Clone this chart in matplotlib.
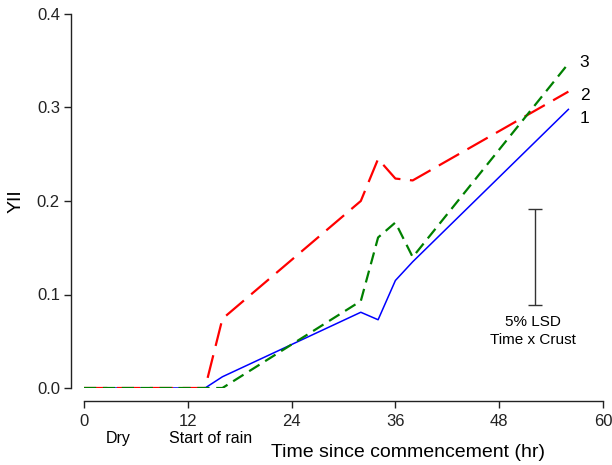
import matplotlib
matplotlib.use("Agg")
import matplotlib.pyplot as plt

plt.rcParams['font.family'] = ['Liberation Sans', 'DejaVu Sans']

time = [0, 14, 16, 32, 34, 36, 38, 56]
crust1 = [0, 0, 0.012, 0.081, 0.073, 0.115, 0.135, 0.298]
crust2 = [0, 0, 0.074, 0.200, 0.245, 0.224, 0.222, 0.317]
crust3 = [0, 0, 0.000, 0.093, 0.161, 0.177, 0.140, 0.347]
series_labels = ["1", "2", "3"]
xticks = [0, 12, 24, 36, 48, 60]
yticks = [0.0, 0.1, 0.2, 0.3, 0.4]
lsd_x = 52.1
lsd_top = 0.191
lsd_bottom = 0.089

W, H = 612, 465
fig = plt.figure(figsize=(W / 100, H / 100), dpi=100)
ax = fig.add_axes([84 / W, 1 - 388 / H, (603 - 84) / W, (388 - 14) / H])

ax.plot(time, crust1, color='#0000FF', lw=1.1, zorder=2)
ax.plot(time, crust2, color='#FF0000', lw=1.6, dashes=(10.5, 4.3), zorder=3)
ax.plot(time, crust3, color='#008000', lw=1.6, dashes=(5.5, 3.0), zorder=4)

# series labels at line ends
ax.text(57.3, crust1[-1] - 0.010, series_labels[0], fontsize=12.5, ha='left', va='center')
ax.text(57.3, crust2[-1] - 0.004, series_labels[1], fontsize=12.5, ha='left', va='center')
ax.text(57.3, crust3[-1] + 0.001, series_labels[2], fontsize=12.5, ha='left', va='center')

# LSD bar
ax.errorbar([lsd_x], [(lsd_top + lsd_bottom) / 2], yerr=[(lsd_top - lsd_bottom) / 2],
            fmt='none', ecolor='#333333', elinewidth=1.0, capsize=5, capthick=1.0)
ax.text(lsd_x - 0.2, 0.0705, "5% LSD", fontsize=11, ha='center', va='center')
ax.text(lsd_x - 0.2, 0.0510, "Time x Crust", fontsize=11, ha='center', va='center')

ax.set_xlim(0, 60)
ax.set_ylim(0, 0.4)
ax.set_xticks(xticks)
ax.set_yticks(yticks)
ax.set_yticklabels([f"{v:.1f}" for v in yticks])
ax.tick_params(axis='both', direction='out', length=5, width=1, labelsize=12, colors='#222222')
ax.tick_params(axis='y', pad=3)
ax.tick_params(axis='x', pad=4)

for s in ['top', 'right']:
    ax.spines[s].set_visible(False)
ax.spines['left'].set_position(('outward', 13 * 72 / 100))
ax.spines['bottom'].set_position(('outward', 13 * 72 / 100))
ax.spines['left'].set_bounds(0, 0.4)
ax.spines['bottom'].set_bounds(0, 60)
for s in ['left', 'bottom']:
    ax.spines[s].set_linewidth(1.0)
    ax.spines[s].set_color('#222222')

fig.text(118 / W, 1 - 438 / H, "Dry", fontsize=11.5, ha='center', va='center')
fig.text(211 / W, 1 - 438 / H, "Start of rain", fontsize=11.5, ha='center', va='center')
fig.text(408 / W, 1 - 452 / H, "Time since commencement (hr)", fontsize=14, ha='center', va='center')
fig.text(16 / W, 1 - 201 / H, "YII", fontsize=14, ha='center', va='center', rotation=90)

fig.savefig("out.png", dpi=100)
